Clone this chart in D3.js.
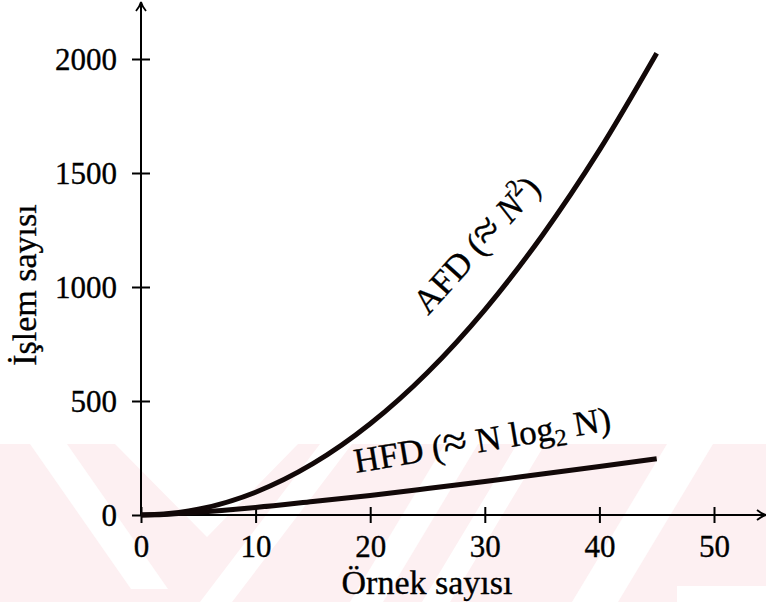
<!DOCTYPE html>
<html>
<head>
<meta charset="utf-8">
<script src="https://cdn.jsdelivr.net/npm/d3@7"></script>
<style>
  body { margin: 0; background: #fff; }
  text { font-family: "Liberation Serif", "DejaVu Serif", serif; fill: #000; stroke: #000; stroke-width: 0.35; }
</style>
</head>
<body>
<svg id="chart" width="766" height="602"></svg>
<script>
// values
var sampleCounts = [0, 2, 5, 10, 15, 20, 25, 30, 35, 40, 45];
var afdOps = [0, 4, 25, 100, 225, 400, 625, 900, 1225, 1600, 2025];
var hfdOps = [0, 2, 12, 33, 59, 86, 116, 147, 180, 213, 247];
var xTicks = [0, 10, 20, 30, 40, 50];
var yTicks = [0, 500, 1000, 1500, 2000];
var xLabel = "Örnek sayısı",
    yLabel = "İşlem sayısı";

var svg = d3.select("#chart");

var x = d3.scaleLinear().domain([0, 50]).range([141, 714]);
var y = d3.scaleLinear().domain([0, 2000]).range([515, 59]);

// faint watermark in the lower band
var mark = svg.append("g");
mark.append("clipPath").attr("id", "band")
  .append("rect").attr("x", 0).attr("y", 444).attr("width", 766).attr("height", 158);
mark.append("rect")
    .attr("x", 0).attr("y", 444).attr("width", 766).attr("height", 158)
    .attr("fill", "#fdf0f2");
var stripes = [
  [[30, 444], [67, 444], [168, 589], [131, 589]],
  [[115, 444], [298, 444], [207, 537]],
  [[320, 444], [352, 444], [232, 602], [200, 602]],
  [[445, 444], [478, 444], [383, 602], [350, 602]],
  [[517, 444], [545, 444], [450, 602], [422, 602]],
  [[667, 444], [713, 444], [618, 602], [572, 602]],
  [[677, 586], [766, 586], [766, 602], [677, 602]]
];
mark.append("g").attr("clip-path", "url(#band)")
  .selectAll("polygon").data(stripes).enter().append("polygon")
    .attr("points", function(d) { return d.join(" "); })
    .attr("fill", "#fff");

// axes
var xAxis = svg.append("g")
    .attr("transform", "translate(0," + y(0) + ")")
    .call(d3.axisBottom(x).tickValues(xTicks).tickSize(0).tickFormat(d3.format("d")));
xAxis.select(".domain").remove();
xAxis.selectAll(".tick line")
    .attr("y1", -8).attr("y2", 8)
    .attr("stroke", "#000").attr("stroke-width", 2);
xAxis.selectAll(".tick text")
    .attr("y", 42).attr("dy", null)
    .attr("font-size", 31)
    .attr("font-family", null);

var yAxis = svg.append("g")
    .attr("transform", "translate(" + x(0) + ",0)")
    .call(d3.axisLeft(y).tickValues(yTicks).tickSize(0).tickFormat(d3.format("d")));
yAxis.select(".domain").remove();
yAxis.selectAll(".tick line")
    .attr("x1", -9).attr("x2", 9)
    .attr("stroke", "#000").attr("stroke-width", 2);
yAxis.selectAll(".tick text")
    .attr("x", -24).attr("dy", "0.35em")
    .attr("font-size", 31)
    .attr("font-family", null);

// axis lines with arrow heads
svg.append("line")
    .attr("x1", x(0)).attr("x2", 764)
    .attr("y1", y(0)).attr("y2", y(0))
    .attr("stroke", "#000").attr("stroke-width", 2);
svg.append("path")
    .attr("d", "M757,510 Q762,514 766,515 Q762,516 757,520")
    .attr("fill", "none").attr("stroke", "#000").attr("stroke-width", 1.8);
svg.append("line")
    .attr("x1", x(0)).attr("x2", x(0))
    .attr("y1", y(0)).attr("y2", 4)
    .attr("stroke", "#000").attr("stroke-width", 2);
svg.append("path")
    .attr("d", "M136,11 Q140,6 141,2 Q142,6 146,11")
    .attr("fill", "none").attr("stroke", "#000").attr("stroke-width", 1.8);

// curves
var line = d3.line()
    .x(function(d) { return x(d[0]); })
    .y(function(d) { return y(d[1]); })
    .curve(d3.curveMonotoneX);

svg.append("path")
    .datum(d3.zip(sampleCounts, afdOps))
    .attr("d", line)
    .attr("fill", "none").attr("stroke", "#120808").attr("stroke-width", 5);
svg.append("path")
    .datum(d3.zip(sampleCounts, hfdOps))
    .attr("d", line)
    .attr("fill", "none").attr("stroke", "#120808").attr("stroke-width", 5);

// curve labels
var afdText = svg.append("text")
    .attr("transform", "translate(428,316) rotate(-48)")
    .attr("font-size", 35);
afdText.append("tspan").text("AFD (");
afdText.append("tspan").attr("font-size", 44).text("≈");
afdText.append("tspan").attr("font-style", "italic").text(" N");
afdText.append("tspan").attr("font-size", 24).attr("dy", -14).text("2");
afdText.append("tspan").attr("dy", 14).text(")");

var hfdText = svg.append("text")
    .attr("transform", "translate(356,473) rotate(-9.5)")
    .attr("font-size", 35);
hfdText.append("tspan").text("HFD (");
hfdText.append("tspan").attr("font-size", 44).text("≈");
hfdText.append("tspan").text(" N log");
hfdText.append("tspan").attr("font-size", 24).attr("dy", 7).text("2");
hfdText.append("tspan").attr("dy", -7).text(" N)");

// axis titles
svg.append("text")
    .attr("x", 427).attr("y", 594)
    .attr("text-anchor", "middle")
    .attr("font-size", 34)
    .text(xLabel);
svg.append("text")
    .attr("transform", "translate(36,285) rotate(-90)")
    .attr("text-anchor", "middle")
    .attr("font-size", 34)
    .text(yLabel);
</script>
</body>
</html>
